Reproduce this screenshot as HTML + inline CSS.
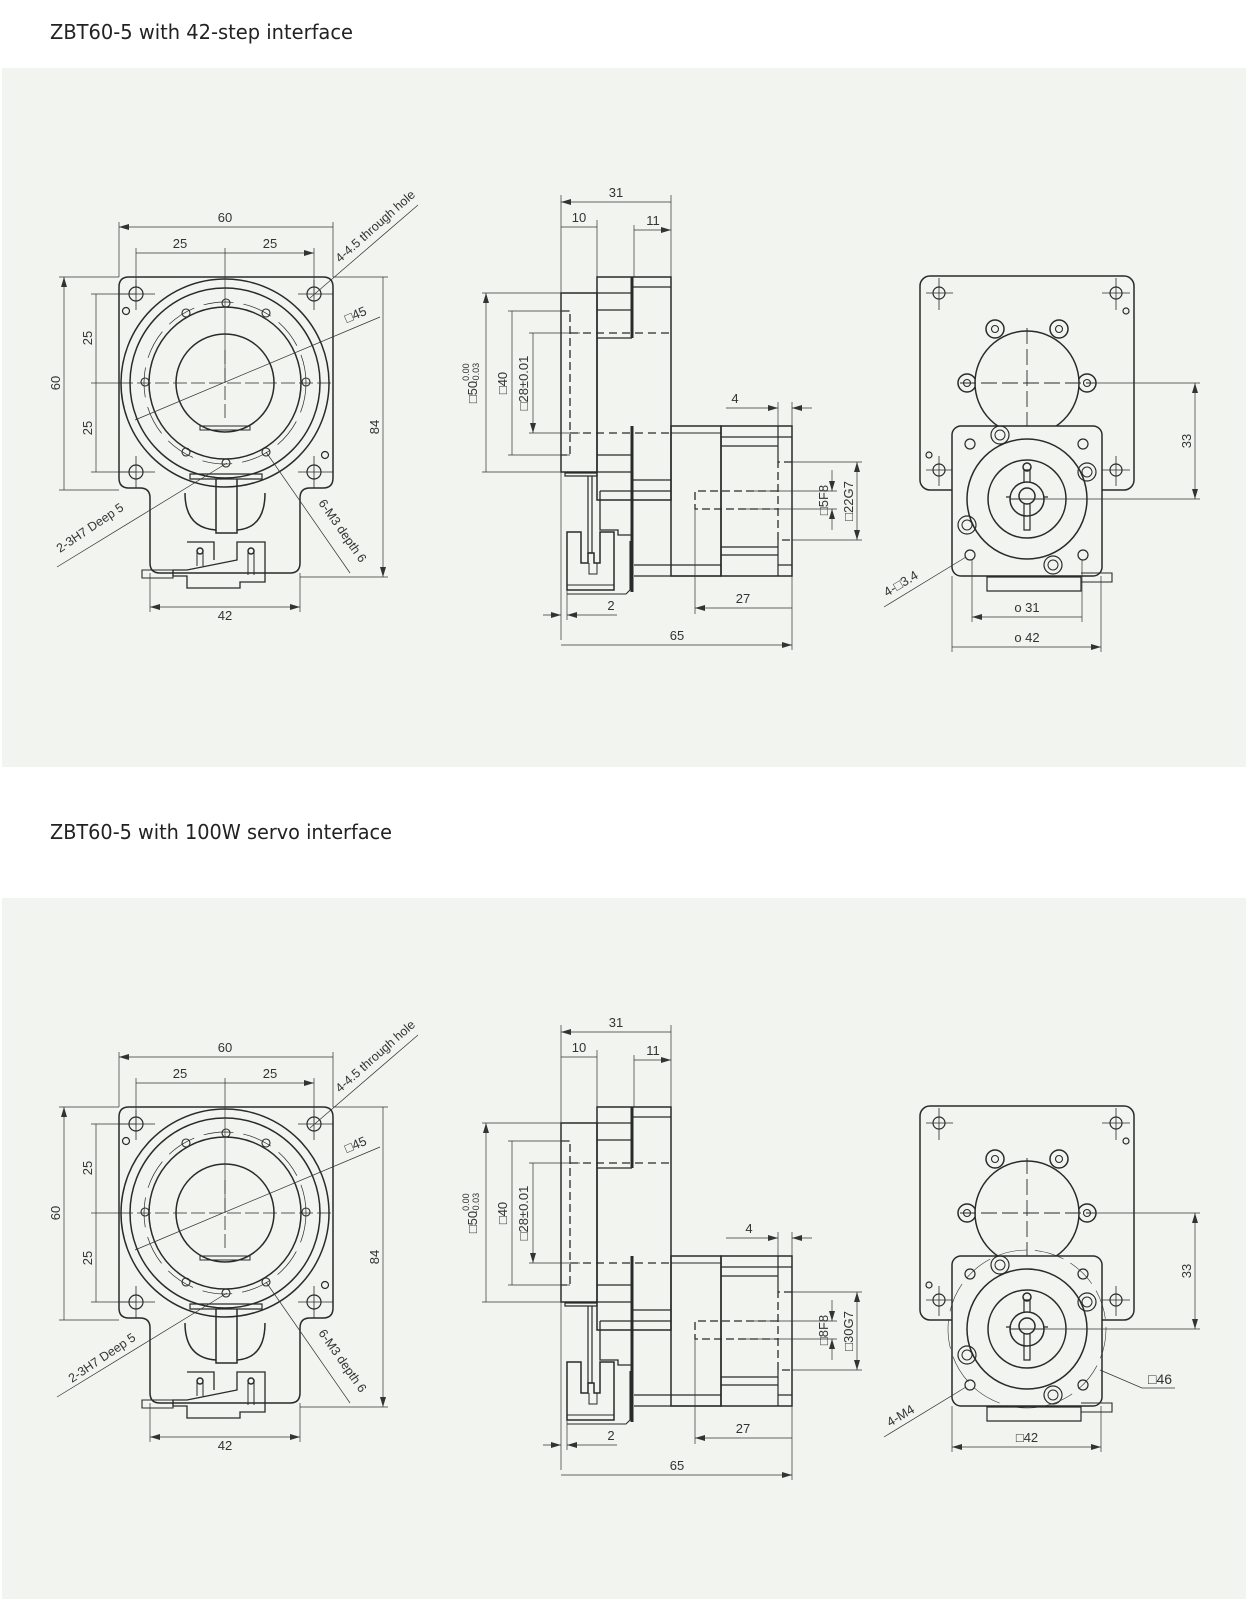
<!DOCTYPE html>
<html><head><meta charset="utf-8">
<style>
html,body{margin:0;padding:0;background:#fff;}
svg{display:block;}
text{font-family:"Liberation Sans",sans-serif;fill:#333;}
</style></head>
<body>
<svg width="1248" height="1599" viewBox="0 0 1248 1599" xmlns="http://www.w3.org/2000/svg">
<defs>
<marker id="ar" viewBox="0 0 10 6" refX="10" refY="3" markerWidth="10" markerHeight="6" markerUnits="userSpaceOnUse" orient="auto-start-reverse"><path d="M0,0 L10,3 L0,6 Z" fill="#333"/></marker>
<g id="geo" fill="none" stroke="#2a2a2a" stroke-width="1.5">
  <!-- FRONT VIEW -->
  <path d="M129,277 H323 Q333,277 333,287 V478 Q333,488 323,488 H310 Q300,488 300,498 V563 Q300,573 290,573 H160 Q150,573 150,563 V498 Q150,488 140,488 H129 Q119,488 119,478 V287 Q119,277 129,277 Z"/>
  <circle cx="225" cy="383" r="104"/>
  <circle cx="225" cy="383" r="95"/>
  <circle cx="225" cy="383" r="76"/>
  <circle cx="225" cy="383" r="81" stroke-width="0.7" stroke-dasharray="30 10"/>
  <circle cx="225" cy="383" r="49"/>
  <path d="M200,426 H250 V430 H200 Z" stroke-width="1"/>
  <g stroke-width="1.2">
    <circle cx="136" cy="294" r="7"/><circle cx="314" cy="294" r="7"/>
    <circle cx="136" cy="472" r="7"/><circle cx="314" cy="472" r="7"/>
    <circle cx="126" cy="311" r="3.5"/><circle cx="325" cy="455" r="3.5"/>
  </g>
  <g stroke-width="0.8">
    <path d="M119,294 H155 M136,280 V310 M298,294 H333 M314,280 V310 M119,472 H155 M136,456 V488 M298,472 H333 M314,456 V488"/>
    <path d="M225,350 V420 M119,383 H333" stroke-dasharray="14 4"/>
  </g>
  <g stroke-width="1.1">
    <circle cx="226" cy="303" r="4"/><circle cx="186" cy="313" r="4"/><circle cx="266" cy="313" r="4"/>
    <circle cx="145" cy="382" r="4"/><circle cx="306" cy="382" r="4"/>
    <circle cx="186" cy="452" r="4"/><circle cx="266" cy="452" r="4"/><circle cx="226" cy="463" r="4"/>
  </g>
  <path d="M190,474 H262 V479 H190 Z" stroke-width="1.2"/>
  <path d="M216,479 V533 H237 V479" />
  <path d="M185,493 Q185,528 216,530 M265,493 Q265,528 237,530" stroke-width="1.5"/>
  <path d="M187,542 H214 V560 M237,560 V542 H265 V582 H240 V588 H187 V576 H173 V570 H187 Z" stroke-width="1.3"/>
  <path d="M142,570 H173 V578 H142 Z" stroke-width="1.1"/>
  <circle cx="200" cy="551" r="3"/><circle cx="251" cy="551" r="3"/>
  <path d="M197,551 V566 M203,551 V566 M248,551 V575 M254,551 V575" stroke-width="1"/>
  <!-- SIDE VIEW -->
  <rect x="561" y="293" width="36" height="179"/>
  <rect x="597" y="277" width="74" height="223"/>
  <path d="M632,277 V338 M632,426 V592" stroke-width="3"/>
  <path d="M632,287 H671 M597,293 H632 M597,310 H632 M597,338 H632 M597,455 H632 M597,472 H632 M632,480 H671 M632,491 H671" stroke-width="1.2"/>
  <path d="M561,311 H570 V455 H561" stroke-dasharray="8 4" stroke-width="1.3"/>
  <path d="M570,333 H671 M570,433 H671" stroke-dasharray="8 5" stroke-width="1.3"/>
  <rect x="671" y="426" width="50" height="150"/>
  <path d="M671,433 H721" stroke-width="1.1"/>
  <rect x="721" y="426" width="71" height="150"/>
  <path d="M778,426 V462 M778,540 V576 M721,437 H778 M721,446 H778 M721,547 H778 M721,555 H778 M778,437 H792 M778,565 H792" stroke-width="1.2"/>
  <path d="M792,462 H778 V540 H792" stroke-dasharray="8 4" stroke-width="1.3"/>
  <path d="M778,491 H695 V509 H778" stroke-dasharray="8 4" stroke-width="1.3"/>
  <path d="M634,565 H721 M634,576 H721" stroke-width="1.2"/>
  <path d="M565,473 H597 V476 H565 Z M588,476 V553 H592 V476" stroke-width="1.2"/>
  <path d="M600,491 H632 M600,491 V530 H618 V535 H632" stroke-width="1.3"/>
  <path d="M567,532 H581 V563 H588 V553 H594 V563 H600 V532 H614 V590 H567 Z" stroke-width="1.5"/>
  <path d="M589,563 V574 H597 V563" stroke-width="1"/>
  <path d="M567,585 H614 M630,541 V590 L626,594 H567" stroke-width="1.1"/>
  <!-- RIGHT VIEW -->
  <rect x="920" y="276" width="214" height="214" rx="10"/>
  <g stroke-width="1.2">
    <circle cx="939" cy="293" r="6"/><circle cx="1116" cy="293" r="6"/>
    <circle cx="939" cy="470" r="6"/><circle cx="1116" cy="470" r="6"/>
    <circle cx="1126" cy="311" r="3"/><circle cx="929" cy="455" r="3"/>
  </g>
  <path d="M926,293 H953 M939,278 V310 M1102,293 H1130 M1116,278 V310 M926,470 H953 M939,456 V486 M1102,470 H1130 M1116,456 V486" stroke-width="0.8"/>
  <g fill="#f2f4ef">
    <circle cx="967" cy="383" r="9"/><circle cx="1087" cy="383" r="9"/>
    <circle cx="995" cy="329" r="9"/><circle cx="1059" cy="329" r="9"/>
    <circle cx="1027" cy="383" r="52"/>
  </g>
  <g stroke-width="1.1">
    <circle cx="967" cy="383" r="3.5"/><circle cx="1087" cy="383" r="3.5"/>
    <circle cx="995" cy="329" r="3.5"/><circle cx="1059" cy="329" r="3.5"/>
  </g>
  <path d="M1027,328 V440 M960,383 H1095" stroke-width="0.9" stroke-dasharray="16 5"/>
  <rect x="952" y="426" width="150" height="150" rx="9" fill="#f2f4ef"/>
  <circle cx="1027" cy="499" r="60"/>
  <circle cx="1027" cy="499" r="39"/>
  <circle cx="1027" cy="499" r="17"/>
  <circle cx="1027" cy="496" r="8"/>
  <path d="M1024,504 V530 H1030 V504 M1024,483 V470 H1030 V483 M1010,497 H1006 M1044,497 H1048" stroke-width="1.2"/>
  <circle cx="1027" cy="467" r="4"/>
  <path d="M1010,499 H1045" stroke-width="1"/>
  <g stroke-width="1.2">
    <circle cx="970" cy="444" r="5"/><circle cx="1083" cy="444" r="5"/>
    <circle cx="970" cy="555" r="5"/><circle cx="1083" cy="555" r="5"/>
    <circle cx="1000" cy="435" r="9"/><circle cx="1087" cy="472" r="9"/>
    <circle cx="967" cy="525" r="9"/><circle cx="1053" cy="565" r="9"/>
  </g>
  <g stroke-width="1">
    <circle cx="1000" cy="435" r="5"/><circle cx="1087" cy="472" r="5"/>
    <circle cx="967" cy="525" r="5"/><circle cx="1053" cy="565" r="5"/>
  </g>
  <path d="M987,577 H1081 V591 H987 Z" stroke-width="1.2"/>
  <path d="M1081,573 H1112 V582 H1081" stroke-width="1.1"/>
</g>
<g id="dimA" fill="none" stroke="#333" stroke-width="0.7">
  <path d="M119,222 V277 M333,222 V277 M136,248 V294 M314,248 V294 M225,248 V383"/>
  <path d="M119,227 H333 M136,253 H225 M225,253 H314" marker-start="url(#ar)" marker-end="url(#ar)"/>
  <path d="M59,277 H119 M59,490 H119 M91,294 H136 M91,383 H119 M91,472 H136 M333,277 H388 M300,577 H388"/>
  <path d="M64,277 V490 M96,294 V383 M96,383 V472 M383,277 V577" marker-start="url(#ar)" marker-end="url(#ar)"/>
  <path d="M150,573 V612 M300,573 V612"/>
  <path d="M150,607 H300" marker-start="url(#ar)" marker-end="url(#ar)"/>
  <path d="M310,298 L418,205 M135,420 L380,317 M57,567 L227,463 M266,452 L350,573"/>
  <path d="M561,195 V640 M597,220 V277 M634,225 V277 M671,195 V277"/>
  <path d="M561,202 H671 M561,227 H597 M634,230 H671" marker-start="url(#ar)" marker-end="url(#ar)"/>
  <path d="M482,293 H561 M508,311 H570 M529,333 H580 M482,472 H561 M508,455 H570 M529,433 H580"/>
  <path d="M486,293 V472 M512,311 V455 M533,333 V433" marker-start="url(#ar)" marker-end="url(#ar)"/>
  <path d="M778,402 V426 M792,402 V426"/>
  <path d="M726,408 H778" marker-end="url(#ar)"/><path d="M812,408 H792" marker-end="url(#ar)"/>
  <path d="M746,491 H837 M746,509 H837 M792,462 H862 M792,540 H862"/>
  <path d="M832,470 V491" marker-end="url(#ar)"/><path d="M832,530 V509" marker-end="url(#ar)"/>
  <path d="M857,462 V540" marker-start="url(#ar)" marker-end="url(#ar)"/>
  <path d="M695,509 V614 M792,576 V650 M567,590 V620"/>
  <path d="M695,608 H792 M561,645 H792" marker-start="url(#ar)" marker-end="url(#ar)"/>
  <path d="M543,615 H561" marker-end="url(#ar)"/><path d="M617,615 H567" marker-end="url(#ar)"/>
  <path d="M1090,383 H1200 M1045,499 H1200"/>
  <path d="M1195,383 V499" marker-start="url(#ar)" marker-end="url(#ar)"/>
</g>
</defs>
<rect x="2" y="68" width="1244" height="699" fill="#f2f4ef"/>
<rect x="2" y="898" width="1244" height="701" fill="#f2f4ef"/>
<text x="50" y="39" font-size="20" style="font-family:'DejaVu Sans','Liberation Sans',sans-serif;fill:#222" textLength="303" lengthAdjust="spacingAndGlyphs">ZBT60-5 with 42-step interface</text>
<text x="50" y="839" font-size="20" style="font-family:'DejaVu Sans','Liberation Sans',sans-serif;fill:#222" textLength="342" lengthAdjust="spacingAndGlyphs">ZBT60-5 with 100W servo interface</text>

<use href="#geo"/><use href="#dimA"/>
<use href="#geo" transform="translate(0,830)"/><use href="#dimA" transform="translate(0,830)"/>

<g fill="none" stroke="#333" stroke-width="0.7">
  <path d="M972,560 V622 M1082,560 V622 M952,576 V652 M1101,576 V652"/>
  <path d="M972,617 H1082 M952,647 H1101" marker-start="url(#ar)" marker-end="url(#ar)"/>
  <path d="M884,607 L966,557"/>
</g>
<g fill="none" stroke="#333" stroke-width="0.7">
  <circle cx="1027" cy="1329" r="79" stroke-dasharray="30 8" stroke-width="0.6"/>
  <path d="M952,1406 V1452 M1101,1406 V1452"/>
  <path d="M952,1447 H1101" marker-start="url(#ar)" marker-end="url(#ar)"/>
  <path d="M1175,1388 H1142 L1100,1370"/>
  <path d="M884,1437 L966,1387"/>
</g>

<g font-size="13" text-anchor="middle">
  <text x="225" y="222">60</text>
  <text x="180" y="248">25</text><text x="270" y="248">25</text>
  <text transform="translate(60,383) rotate(-90)">60</text>
  <text transform="translate(92,338) rotate(-90)">25</text>
  <text transform="translate(92,428) rotate(-90)">25</text>
  <text transform="translate(379,427) rotate(-90)">84</text>
  <text x="225" y="620">42</text>
  <text transform="translate(340,263) rotate(-41.5)" text-anchor="start" font-size="12.5">4-4.5 through hole</text>
  <text transform="translate(347,323) rotate(-23)" text-anchor="start">□45</text>
  <text transform="translate(60,553) rotate(-34)" text-anchor="start" font-size="12.5">2-3H7 Deep 5</text>
  <text transform="translate(318,503) rotate(55)" text-anchor="start" font-size="12.5">6-M3 depth 6</text>
  <text x="616" y="197">31</text>
  <text x="579" y="222">10</text>
  <text x="653" y="225">11</text>
  <text transform="translate(477,383) rotate(-90)">□50<tspan font-size="9" dy="-8">0.00</tspan><tspan font-size="9" dx="-20" dy="10">-0.03</tspan></text>
  <text transform="translate(507,383) rotate(-90)">□40</text>
  <text transform="translate(528,383) rotate(-90)">□28±0.01</text>
  <text x="735" y="403">4</text>
  <text x="743" y="603">27</text>
  <text x="611" y="610">2</text>
  <text x="677" y="640">65</text>
  <text transform="translate(1191,441) rotate(-90)">33</text>
  <text transform="translate(828,500) rotate(-90)">□5F8</text>
  <text transform="translate(853,501) rotate(-90)">□22G7</text>
  <text x="1027" y="612">o 31</text>
  <text x="1027" y="642">o 42</text>
  <text transform="translate(887,597) rotate(-31)" text-anchor="start">4-□3.4</text>

  <g transform="translate(0,830)">
  <text x="225" y="222">60</text>
  <text x="180" y="248">25</text><text x="270" y="248">25</text>
  <text transform="translate(60,383) rotate(-90)">60</text>
  <text transform="translate(92,338) rotate(-90)">25</text>
  <text transform="translate(92,428) rotate(-90)">25</text>
  <text transform="translate(379,427) rotate(-90)">84</text>
  <text x="225" y="620">42</text>
  <text transform="translate(340,263) rotate(-41.5)" text-anchor="start" font-size="12.5">4-4.5 through hole</text>
  <text transform="translate(347,323) rotate(-23)" text-anchor="start">□45</text>
  <text transform="translate(72,553) rotate(-34)" text-anchor="start" font-size="12.5">2-3H7 Deep 5</text>
  <text transform="translate(318,503) rotate(55)" text-anchor="start" font-size="12.5">6-M3 depth 6</text>
  <text x="616" y="197">31</text>
  <text x="579" y="222">10</text>
  <text x="653" y="225">11</text>
  <text transform="translate(477,383) rotate(-90)">□50<tspan font-size="9" dy="-8">0.00</tspan><tspan font-size="9" dx="-20" dy="10">-0.03</tspan></text>
  <text transform="translate(507,383) rotate(-90)">□40</text>
  <text transform="translate(528,383) rotate(-90)">□28±0.01</text>
  <text x="749" y="403">4</text>
  <text x="743" y="603">27</text>
  <text x="611" y="610">2</text>
  <text x="677" y="640">65</text>
  <text transform="translate(1191,441) rotate(-90)">33</text>
  <text transform="translate(828,500) rotate(-90)">□8F8</text>
  <text transform="translate(853,501) rotate(-90)">□30G7</text>
  <text x="1027" y="612">□42</text>
  <text x="1160" y="554" font-size="14">□46</text>
  <text transform="translate(890,597) rotate(-31)" text-anchor="start">4-M4</text>
  </g>
</g>
</svg>
</body></html>
